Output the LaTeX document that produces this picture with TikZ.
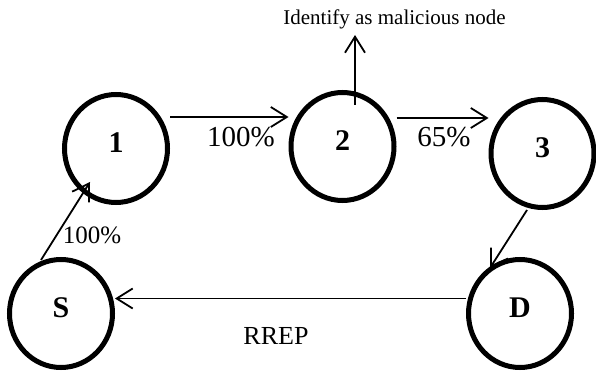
\documentclass[tikz,border=0pt]{standalone}
\usepackage{fontspec}
\setmainfont{Liberation Serif}
\usetikzlibrary{arrows.meta,shapes.geometric}
\begin{document}
\begin{tikzpicture}[x=1pt,y=-1pt,
  state/.style={ellipse,draw,line width=5pt,minimum width=103pt,minimum height=108pt,inner sep=0pt,font=\fontsize{30}{36}\selectfont\bfseries,text depth=12pt},
  conn/.style={line width=1.8pt,-{Straight Barb[length=16pt,width=20pt]}},
  lbl/.style={anchor=base,inner sep=0pt},
  pct/.style={lbl,font=\fontsize{29}{34}\selectfont},
]
\useasboundingbox (0,0) rectangle (596,371);
\node[state] (n1) at (116,148.5) {1};
\node[state] (n2) at (342.5,146.5) {2};
\node[state] (n3) at (542.5,153.5) {3};
\node[state] (nS) at (61,313.5) {S};
\node[state] (nD) at (520,313.5) {D};

\node[pct] (l12) at (241,147) {100\%};
\node[pct] (l23) at (444,147) {65\%};
\node[lbl,font=\fontsize{25}{30}\selectfont] (lS1) at (92,243) {100\%};
\node[lbl,font=\fontsize{26}{31}\selectfont] (lr) at (276,344) {RREP};
\node[lbl,font=\fontsize{21}{25}\selectfont] (lm) at (394.5,25) {Identify as malicious node};
\coordinate (up) at (355,35);

\draw[conn] ([yshift=31.5pt]n1.east) -- ([yshift=31.5pt]n1.east -| n2.west);
\draw[conn] ([yshift=28.5pt]n2.east) -- ([yshift=28.5pt]n2.east -| n3.west);
\draw[conn] ([xshift=12.5pt,yshift=41.5pt]n2.center) -- (up);
\draw[conn] ([xshift=-20pt,yshift=53.5pt]nS.center) -- ([xshift=-26pt,yshift=-33.5pt]n1.center);
\draw[conn] ([xshift=-15.5pt,yshift=-56.5pt]n3.center) -- ([xshift=-30pt,yshift=45.5pt]nD.center);
\draw[conn] ([yshift=15pt]nD.west) -- ([yshift=15pt]nD.west -| nS.east);
\end{tikzpicture}
\end{document}
